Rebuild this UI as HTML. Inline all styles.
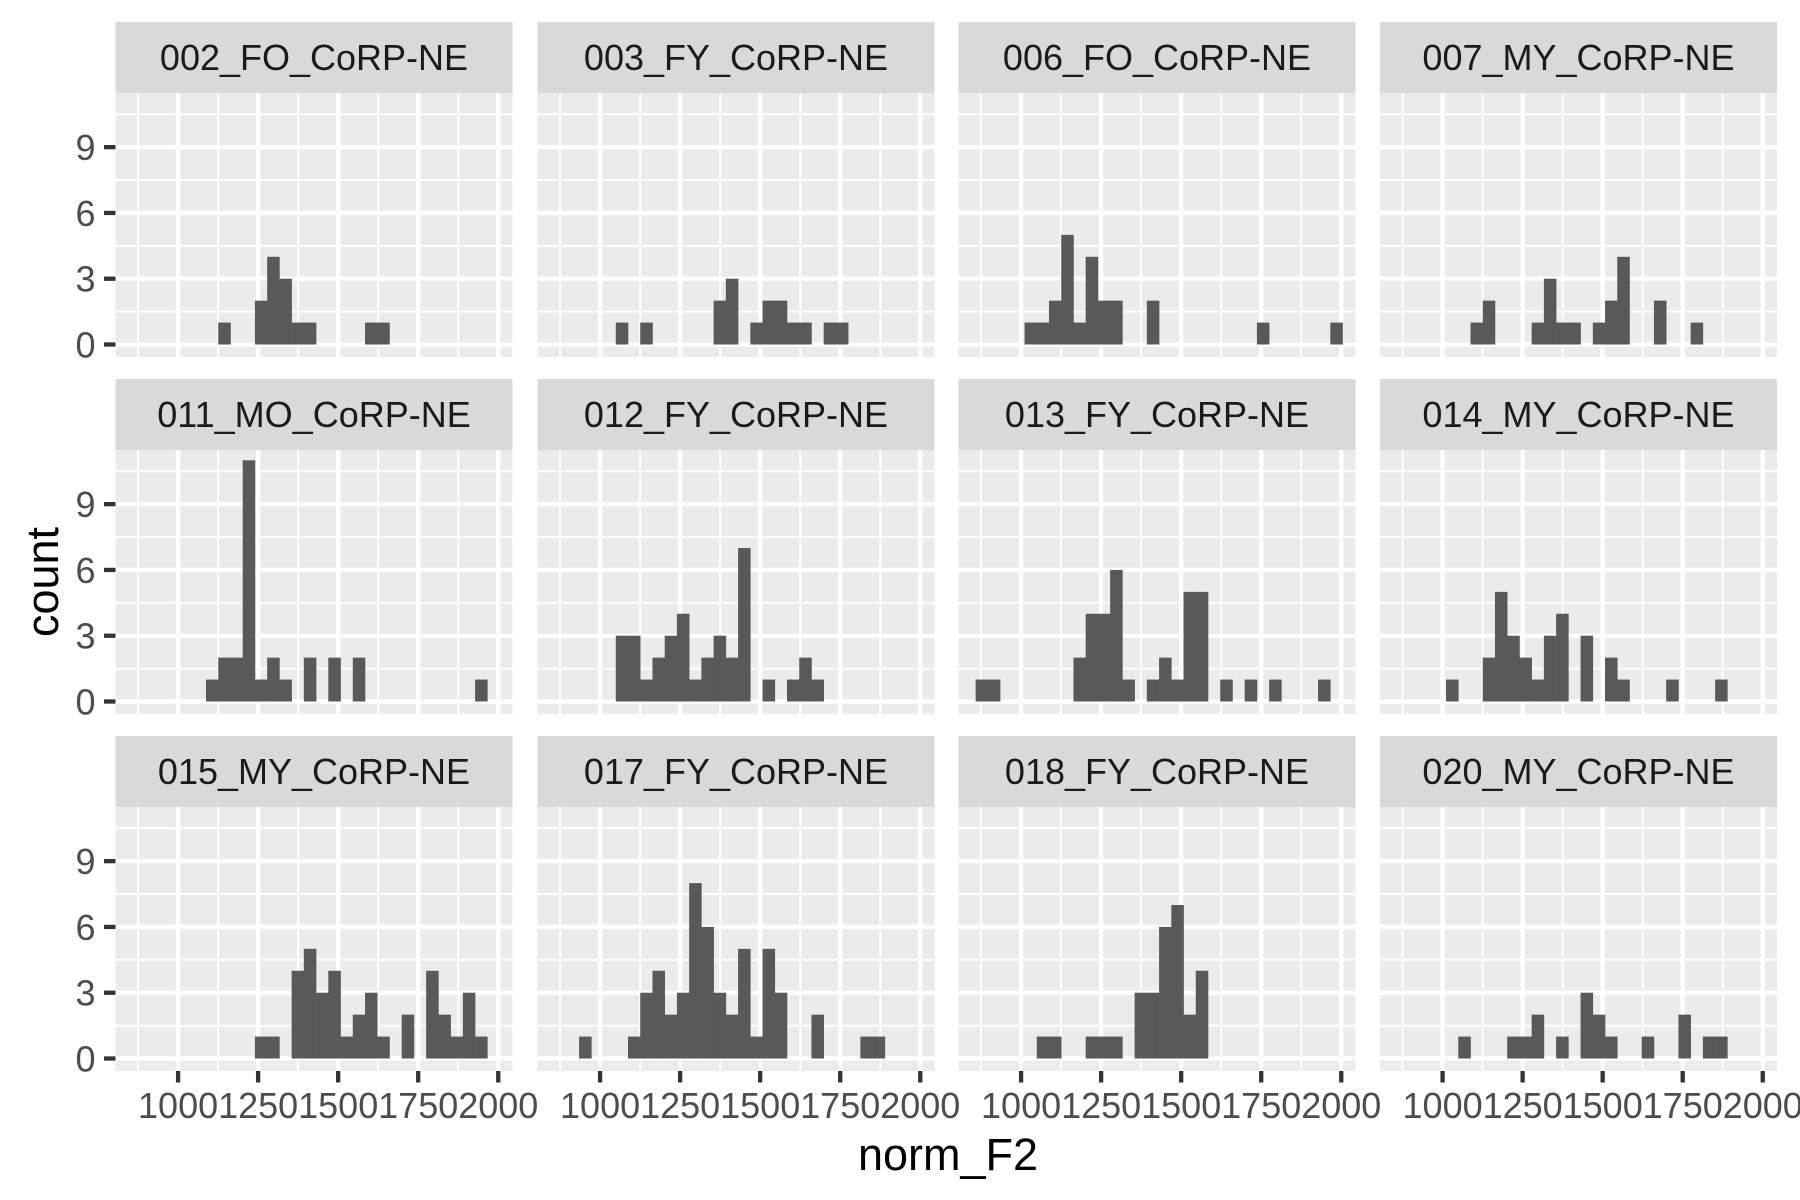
<!DOCTYPE html>
<html><head><meta charset="utf-8"><style>
html,body{margin:0;padding:0;background:#fff;}
svg{display:block;font-family:"Liberation Sans",Arial,sans-serif;}
</style></head><body>
<svg id="chart" width="1800" height="1200" viewBox="0 0 1800 1200" xmlns="http://www.w3.org/2000/svg"></svg>
<script>
const panelNames = ["002_FO_CoRP-NE","003_FY_CoRP-NE","006_FO_CoRP-NE","007_MY_CoRP-NE","011_MO_CoRP-NE","012_FY_CoRP-NE","013_FY_CoRP-NE","014_MY_CoRP-NE","015_MY_CoRP-NE","017_FY_CoRP-NE","018_FY_CoRP-NE","020_MY_CoRP-NE"];
const binStart = 858;
const binWidth = 38.2;
const c002 = [0,0,0,0,0,0,0,1,0,0,2,4,3,1,1,0,0,0,0,1,1,0,0,0,0,0,0,0,0,0];
const c003 = [0,0,0,0,0,1,0,1,0,0,0,0,0,2,3,0,1,2,2,1,1,0,1,1,0,0,0,0,0,0];
const c006 = [0,0,0,0,1,1,2,5,1,4,2,2,0,0,2,0,0,0,0,0,0,0,0,1,0,0,0,0,0,1];
const c007 = [0,0,0,0,0,0,1,2,0,0,0,1,3,1,1,0,1,2,4,0,0,2,0,0,1,0,0,0,0,0];
const c011 = [0,0,0,0,0,0,1,2,2,11,1,2,1,0,2,0,2,0,2,0,0,0,0,0,0,0,0,0,1,0];
const c012 = [0,0,0,0,0,3,3,1,2,3,4,1,2,3,2,7,0,1,0,1,2,1,0,0,0,0,0,0,0,0];
const c013 = [1,1,0,0,0,0,0,0,2,4,4,6,1,0,1,2,1,5,5,0,1,0,1,0,1,0,0,0,1,0];
const c014 = [0,0,0,0,1,0,0,2,5,3,2,1,3,4,0,3,0,2,1,0,0,0,1,0,0,0,1,0,0,0];
const c015 = [0,0,0,0,0,0,0,0,0,0,1,1,0,4,5,3,4,1,2,3,1,0,2,0,4,2,1,3,1,0];
const c017 = [0,0,1,0,0,0,1,3,4,2,3,8,6,3,2,5,1,5,3,0,0,2,0,0,0,1,1,0,0,0];
const c018 = [0,0,0,0,0,1,1,0,0,1,1,1,0,3,3,6,7,2,4,0,0,0,0,0,0,0,0,0,0,0];
const c020 = [0,0,0,0,0,1,0,0,0,1,1,2,0,1,0,3,2,1,0,0,1,0,0,2,0,1,1,0,0,0];
const xTicks = [1000,1250,1500,1750,2000];
const xMinor = [875,1125,1375,1625,1875];
const yTicks = [0,3,6,9];
const yMinor = [1.5,4.5,7.5,10.5];

const allCounts = [c002,c003,c006,c007,c011,c012,c013,c014,c015,c017,c018,c020];
const NS = "http://www.w3.org/2000/svg";
const svg = document.getElementById("chart");
function mk(tag, attrs, parent){const e=document.createElementNS(NS,tag);for(const k in attrs)e.setAttribute(k,attrs[k]);(parent||svg).appendChild(e);return e;}

const colLeft = [115.5,537.5,958.5,1380];
const panelW = 397;
const rowTop = [22,379,736];
const stripH = 71;
const panelH = 264;
const xMin = 804.5, xMax = 2044.5;
const yMin = -0.57, yMax = 11.47;

for (let p=0;p<12;p++){
  const r=Math.floor(p/4), c=p%4;
  const L=colLeft[c], ST=rowTop[r], T=ST+stripH, B=T+panelH;
  const xs = v => L + (v-xMin)/(xMax-xMin)*panelW;
  const ys = v => B - (v-yMin)/(yMax-yMin)*panelH;
  const g = mk("g",{});
  
  
  const strip = mk("rect",{x:L,y:ST,width:panelW,height:stripH,fill:"#D9D9D9"},g);
  
  
  const st = mk("text",{x:L+panelW/2,y:ST+48,"text-anchor":"middle","font-size":"36",fill:"#1A1A1A"},g);
  st.textContent=panelNames[p];
  
  
  const bg = mk("rect",{x:L,y:T,width:panelW,height:panelH,fill:"#EBEBEB"},g);
  
  
  xMinor.forEach(v=>{const l=mk("line",{x1:xs(v),x2:xs(v),y1:T,y2:B,stroke:"#fff","stroke-width":2},g);});
  yMinor.forEach(v=>{const l=mk("line",{x1:L,x2:L+panelW,y1:ys(v),y2:ys(v),stroke:"#fff","stroke-width":2},g);});
  xTicks.forEach(v=>{const l=mk("line",{x1:xs(v),x2:xs(v),y1:T,y2:B,stroke:"#fff","stroke-width":4.3},g);});
  yTicks.forEach(v=>{const l=mk("line",{x1:L,x2:L+panelW,y1:ys(v),y2:ys(v),stroke:"#fff","stroke-width":4.3},g);});
  const counts = allCounts[p];
  counts.forEach((n,i)=>{
    if(n<=0) return;
    const x0=xs(binStart+i*binWidth), x1=xs(binStart+(i+1)*binWidth);
    const b=mk("rect",{x:x0,y:ys(n),width:x1-x0+0.3,height:ys(0)-ys(n),fill:"#595959"},g);
    
    
  });
  if(c===0){
    yTicks.forEach(v=>{
      const tk=mk("line",{x1:L-11.5,x2:L,y1:ys(v),y2:ys(v),stroke:"#333","stroke-width":4.3},g);
      
      
      const t=mk("text",{x:L-20,y:ys(v)+13,"text-anchor":"end","font-size":"36",fill:"#4D4D4D"},g);
      t.textContent=String(v);
      
      
    });
  }
  if(r===2){
    xTicks.forEach(v=>{
      const tk=mk("line",{x1:xs(v),x2:xs(v),y1:B,y2:B+11.5,stroke:"#333","stroke-width":4.3},g);
      
      
      const t=mk("text",{x:xs(v),y:B+47,"text-anchor":"middle","font-size":"36",fill:"#4D4D4D"},g);
      t.textContent=String(v);
      
      
    });
  }
}
const xt=mk("text",{x:948,y:1170,"text-anchor":"middle","font-size":"45",fill:"#000"});
xt.textContent="norm_F2";


const yt=mk("text",{x:0,y:0,"text-anchor":"middle","font-size":"45",fill:"#000",transform:"translate(58,582) rotate(-90)"});
yt.textContent="count";


</script>
</body></html>
